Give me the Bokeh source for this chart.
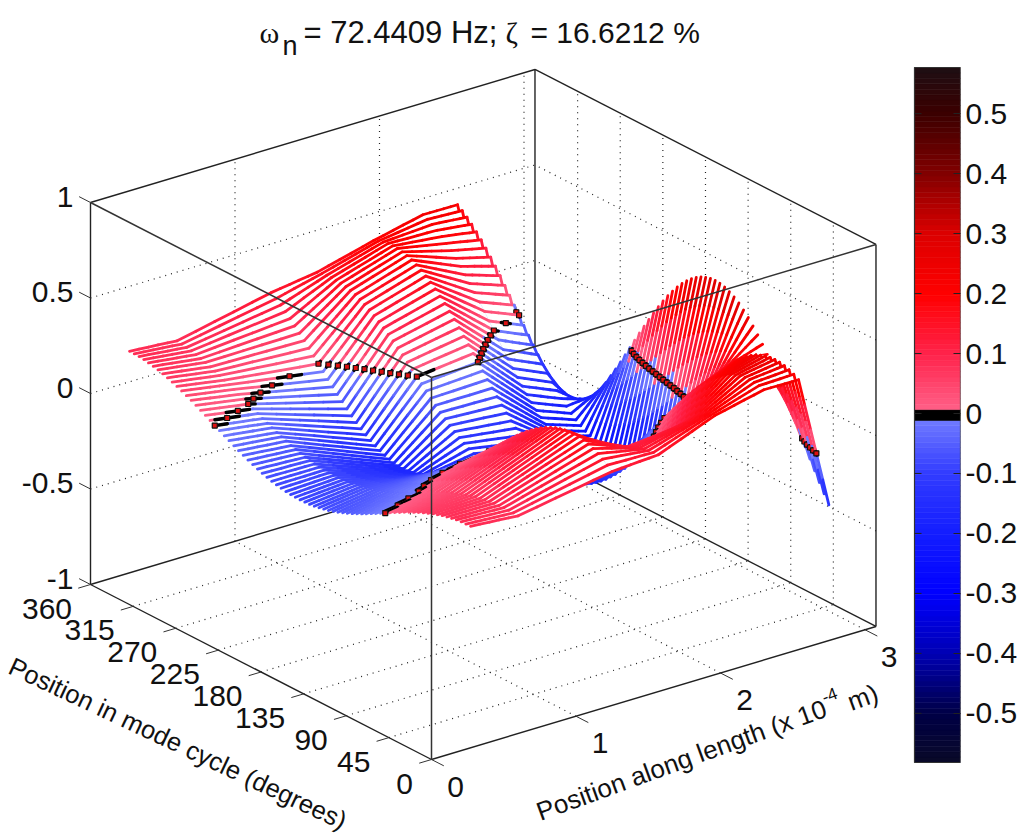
from bokeh.plotting import figure
from bokeh.embed import file_html
from bokeh.resources import INLINE
from bokeh.models import Range1d, LinearAxis, FixedTicker
from bokeh.core.properties import value
import numpy as np

# ---------- values ----------
phase_deg = list(range(0, 365, 5))
x_stations = [0.27, 0.60, 1.25, 1.57, 1.96, 2.30, 2.54, 2.75]

z_x027 = [.160,.159,.158,.155,.150,.145,.139,.131,.123,.113,.103,.092,.080,.068,.055,.041,.028,.014,0,-.014,-.028,-.041,-.055,-.068,-.080,-.092,-.103,-.113,-.123,-.131,-.139,-.145,-.150,-.155,-.158,-.159,
          -.160,-.159,-.158,-.155,-.150,-.145,-.139,-.131,-.123,-.113,-.103,-.092,-.080,-.068,-.055,-.041,-.028,-.014,0,.014,.028,.041,.055,.068,.080,.092,.103,.113,.123,.131,.139,.145,.150,.155,.158,.159,.160]
z_x060 = [.140,.143,.144,.145,.144,.143,.140,.136,.131,.126,.119,.111,.103,.093,.083,.073,.061,.050,.038,.025,.013,0,-.013,-.025,-.038,-.050,-.061,-.073,-.083,-.093,-.103,-.111,-.119,-.126,-.131,-.136,
          -.140,-.143,-.144,-.145,-.144,-.143,-.140,-.136,-.131,-.126,-.119,-.111,-.103,-.093,-.083,-.073,-.061,-.050,-.038,-.025,-.013,0,.013,.025,.038,.050,.061,.073,.083,.093,.103,.111,.119,.126,.131,.136,.140]
z_x125 = [.225,.245,.264,.280,.294,.305,.313,.319,.320,.319,.315,.309,.301,.290,.277,.262,.245,.226,.206,.184,.160,.135,.109,.083,.056,.028,0,-.028,-.056,-.083,-.109,-.135,-.160,-.184,-.206,-.226,
          -.245,-.262,-.277,-.290,-.301,-.309,-.315,-.319,-.320,-.319,-.315,-.309,-.301,-.290,-.277,-.262,-.245,-.226,-.206,-.184,-.160,-.135,-.109,-.083,-.056,-.028,0,.028,.056,.083,.109,.135,.160,.184,.206,.226,.245]
z_x157 = [.240,.240,.238,.232,.225,.215,.202,.186,.166,.145,.123,.099,.075,.050,.025,0,-.025,-.050,-.075,-.099,-.123,-.145,-.166,-.186,-.205,-.222,-.238,-.251,-.263,-.273,-.280,-.286,-.289,-.290,-.289,-.286,
          -.280,-.273,-.263,-.251,-.238,-.222,-.205,-.186,-.166,-.145,-.123,-.099,-.075,-.050,-.025,0,.025,.050,.075,.099,.123,.145,.166,.186,.205,.222,.238,.251,.263,.273,.280,.286,.289,.290,.289,.286,.280]
z_x196 = [.357,.344,.329,.311,.291,.269,.244,.218,.190,.161,.130,.098,.066,.033,0,-.033,-.066,-.098,-.130,-.161,-.190,-.218,-.244,-.269,-.291,-.311,-.329,-.344,-.357,-.367,-.374,-.379,-.380,-.379,-.374,-.367,
          -.357,-.344,-.329,-.311,-.291,-.269,-.244,-.218,-.190,-.161,-.130,-.098,-.066,-.033,0,.033,.066,.098,.130,.161,.190,.218,.244,.269,.291,.311,.329,.344,.357,.367,.374,.379,.380,.379,.374,.367,.357]
z_x230 = [.415,.424,.428,.430,.428,.424,.415,.404,.390,.372,.352,.329,.304,.276,.247,.215,.182,.147,.111,.075,.037,0,-.037,-.075,-.111,-.147,-.182,-.215,-.247,-.276,-.304,-.329,-.352,-.372,-.390,-.404,
          -.415,-.424,-.428,-.430,-.428,-.424,-.415,-.404,-.390,-.372,-.352,-.329,-.304,-.276,-.247,-.215,-.182,-.147,-.111,-.075,-.037,0,.037,.075,.111,.147,.182,.215,.247,.276,.304,.329,.352,.372,.390,.404,.415]
z_x254 = [.413,.429,.440,.449,.454,.456,.454,.449,.440,.429,.413,.395,.374,.349,.322,.293,.262,.228,.193,.156,.118,.079,.040,0,-.040,-.079,-.118,-.156,-.193,-.228,-.262,-.293,-.322,-.349,-.374,-.395,
          -.413,-.429,-.440,-.449,-.454,-.456,-.454,-.449,-.440,-.429,-.413,-.395,-.374,-.349,-.322,-.293,-.262,-.228,-.193,-.156,-.118,-.079,-.040,0,.040,.079,.118,.156,.193,.228,.262,.293,.322,.349,.374,.395,.413]
z_x275 = [-.290,-.245,-.198,-.150,-.101,-.051,0,.051,.101,.150,.198,.245,.290,.333,.373,.410,.444,.475,.502,.526,.545,.560,.571,.578,.580,.578,.571,.560,.545,.526,.502,.475,.444,.410,.373,.333,
          .290,.245,.198,.150,.101,.051,0,-.051,-.101,-.150,-.198,-.245,-.290,-.333,-.373,-.410,-.444,-.475,-.502,-.526,-.545,-.560,-.571,-.578,-.580,-.578,-.571,-.560,-.545,-.526,-.502,-.475,-.444,-.410,-.373,-.333,-.290]

z_columns = [z_x027, z_x060, z_x125, z_x157, z_x196, z_x230, z_x254, z_x275]

x_ticks = [0, 1, 2, 3]
x_tick_labels = ["0", "1", "2", "3"]
phase_ticks = [0, 45, 90, 135, 180, 225, 270, 315, 360]
phase_tick_labels = ["0", "45", "90", "135", "180", "225", "270", "315", "360"]
z_ticks = [-1, -0.5, 0, 0.5, 1]
z_tick_labels = ["-1", "-0.5", "0", "0.5", "1"]
cbar_ticks = [-0.5, -0.4, -0.3, -0.2, -0.1, 0, 0.1, 0.2, 0.3, 0.4, 0.5]
cbar_tick_labels = ["-0.5", "-0.4", "-0.3", "-0.2", "-0.1", "0", "0.1", "0.2", "0.3", "0.4", "0.5"]
x_limit = 3.076
cbar_low, cbar_high = -0.582, 0.577

# colour map stops
cmap_at = [-0.582, -0.5, -0.4, -0.3, -0.2, -0.1, -0.008, -0.0079, 0.0079, 0.008, 0.1, 0.2, 0.3, 0.4, 0.5, 0.577]
cmap_r  = [10, 0, 0, 0, 20, 50, 115, 0, 0, 255, 255, 255, 220, 130, 60, 30]
cmap_g  = [10, 0, 0, 0, 30, 60, 125, 0, 0, 95, 35, 0, 0, 0, 0, 15]
cmap_b  = [40, 70, 180, 255, 255, 255, 255, 0, 0, 135, 75, 0, 0, 0, 0, 20]
colour_scale = 0.55

FONT = "Liberation Sans"

# ---------- projection of the 3-D box on to the page ----------
def px(x, ph, z):
    return 431 + 144.5 * np.asarray(x, float) - np.asarray(ph, float) * 341 / 360 + 0 * np.asarray(z, float)

def py(x, ph, z):
    return 759 - 43.25 * np.asarray(x, float) - np.asarray(ph, float) * 175 / 360 - 191 * (np.asarray(z, float) + 1)

def colour(c):
    r = np.interp(c, cmap_at, cmap_r)
    g = np.interp(c, cmap_at, cmap_g)
    b = np.interp(c, cmap_at, cmap_b)
    return "#%02x%02x%02x" % (int(r), int(g), int(b))

def surface_colour(z):
    c = colour_scale * z
    if abs(c) < 0.008:
        c = 0.008 if c >= 0 else -0.008
    return colour(c)

# the frame runs to the right edge of the colour bar; the bar's axis is the frame's right axis
BAR_TOP, BAR_BOTTOM = 67.0, 762.0
per_px = (cbar_high - cbar_low) / (BAR_BOTTOM - BAR_TOP)
p = figure(width=1024, height=839, x_range=Range1d(0, 960), y_range=Range1d(839, 0),
           x_axis_location=None, y_axis_location=None, toolbar_location=None,
           output_backend="svg", min_border_left=0, min_border_top=0, min_border_bottom=0,
           min_border_right=64, outline_line_color=None)
p.xgrid.visible = False
p.ygrid.visible = False
p.background_fill_color = "white"
p.extra_y_ranges = {"bar": Range1d(cbar_low - (839 - BAR_BOTTOM) * per_px, cbar_high + BAR_TOP * per_px)}

def seg3d(pairs, **kw):
    xs = [[float(px(*a)), float(px(*b))] for a, b in pairs]
    ys = [[float(py(*a)), float(py(*b))] for a, b in pairs]
    return p.multi_line(xs, ys, **kw)

# dotted grid on the floor and the two back walls
grid = []
for x in x_ticks[1:]:
    grid.append(((x, 0, -1), (x, 360, -1)))
    grid.append(((x, 360, -1), (x, 360, 1)))
for ph in phase_ticks[1:-1]:
    grid.append(((0, ph, -1), (x_limit, ph, -1)))
    grid.append(((x_limit, ph, -1), (x_limit, ph, 1)))
for z in z_ticks[1:-1]:
    grid.append(((0, 360, z), (x_limit, 360, z)))
    grid.append(((x_limit, 0, z), (x_limit, 360, z)))
seg3d(grid, line_color="#222222", line_width=1.2, line_dash="1 5")

# back edges of the box
back = [((0, 360, -1), (x_limit, 360, -1)), ((x_limit, 360, -1), (x_limit, 0, -1)),
        ((x_limit, 360, -1), (x_limit, 360, 1)), ((0, 360, 1), (x_limit, 360, 1)),
        ((x_limit, 360, 1), (x_limit, 0, 1)), ((0, 0, -1), (x_limit, 0, -1)),
        ((0, 0, -1), (0, 360, -1)), ((0, 360, -1), (0, 360, 1)), ((x_limit, 0, -1), (x_limit, 0, 1))]
seg3d(back, line_color="#222222", line_width=1.4)

# surface, far rows first so that the white faces hide what lies behind them
Z = np.array(z_columns).T          # rows: phase, columns: station
X = np.array(x_stations)
PH = np.array(phase_deg, float)
nrow, nst = Z.shape
SUB = 5

def draw_row(i):
    xs, ys, cols = [], [], []
    bx, by = [], []
    mx, my = [], []
    ph = PH[i]
    for j in range(nst - 1):
        za, zb = Z[i, j], Z[i, j + 1]
        xa, xb = X[j], X[j + 1]
        for k in range(SUB):
            t0, t1 = k / SUB, (k + 1) / SUB
            x0, x1 = xa + (xb - xa) * t0, xa + (xb - xa) * t1
            z0, z1 = za + (zb - za) * t0, za + (zb - za) * t1
            xs.append([float(px(x0, ph, z0)), float(px(x1, ph, z1))])
            ys.append([float(py(x0, ph, z0)), float(py(x1, ph, z1))])
            cols.append(surface_colour((z0 + z1) / 2))
        if za * zb < 0 or za == 0:
            t = za / (za - zb)
            w = 0.010 / abs(zb - za)
            lo, hi = max(0, t - w), min(1, t + w)
            x0, x1 = xa + (xb - xa) * lo, xa + (xb - xa) * hi
            z0, z1 = za + (zb - za) * lo, za + (zb - za) * hi
            bx.append([float(px(x0, ph, z0)), float(px(x1, ph, z1))])
            by.append([float(py(x0, ph, z0)), float(py(x1, ph, z1))])
            xc = xa + (xb - xa) * t
            mx.append(float(px(xc, ph, 0)))
            my.append(float(py(xc, ph, 0)))
    xs += bx
    ys += by
    cols += ["#000000"] * len(bx)
    widths = [2.8] * (len(xs) - len(bx)) + [3.4] * len(bx)
    p.multi_line(xs, ys, line_color=cols, line_width=widths, line_cap="round")
    if mx:
        p.scatter(mx, my, marker="square", size=5, fill_color="#dd1111", line_color="#111111", line_width=1.2)

for i in range(nrow - 1, 0, -1):
    qx, qy = [], []
    for j in range(nst - 2, -1, -1):
        corners = [(i, j), (i, j + 1), (i - 1, j + 1), (i - 1, j)]
        qx.append([float(px(X[b], PH[a], Z[a, b])) for a, b in corners])
        qy.append([float(py(X[b], PH[a], Z[a, b])) for a, b in corners])
    p.patches(qx, qy, fill_color="white", line_color="white", line_width=0.4)
    draw_row(i)
draw_row(0)

# front edges, over the surface
front = [((0, 360, 1), (0, 0, 1)), ((0, 0, 1), (x_limit, 0, 1)), ((0, 0, -1), (0, 0, 1))]
seg3d(front, line_color="#333333", line_width=1.5)

# tick marks
ticks = []
for x in x_ticks:
    ticks.append(((x, 0, -1), (x, -13, -1)))
for ph in phase_ticks:
    ticks.append(((0, ph, -1), (-0.085, ph, -1)))
for z in z_ticks:
    ticks.append(((0, 360, z), (0, 372, z)))
seg3d(ticks, line_color="#333333", line_width=1)

# tick labels (offsets from the projected tick)
def labels(xv, yv, texts, **kw):
    p.text(xv, yv, text=texts, text_font=value(FONT), text_font_size="30px", text_color="#111111",
           text_baseline="middle", **kw)

labels([float(px(x, 0, -1)) + 24 for x in x_ticks],
       [float(py(x, 0, -1)) + 27 for x in x_ticks], x_tick_labels, text_align="center")
labels([float(px(0, ph, -1)) - 18.5 for ph in phase_ticks],
       [float(py(0, ph, -1)) + 24 for ph in phase_ticks], phase_tick_labels, text_align="right")
labels([73.0] * 5, [float(py(0, 360, z)) - 6 for z in z_ticks], z_tick_labels, text_align="right")

# axis titles
def slanted(xv, yv, t, ang, size):
    p.text([xv], [yv], text=[t], angle=[ang], angle_units="deg", text_font=value(FONT),
           text_font_size=size, text_color="#111111", text_baseline="alphabetic", text_align="left")

slanted(10, 664, "Position in mode cycle (degrees)", -25.2, "25.5px")
slanted(537, 812, "Position along length (x 10", 20, "26px")
slanted(822, 697, "-4", 20, "17px")
slanted(848, 702, "m)", 20, "26px")

# title
for xv, yv, t, f, s in [(259, 32, "\u03c9", "Liberation Serif", "30px"), (282, 45, "n", FONT, "27px"),
                        (303, 32, "= 72.4409 Hz;", FONT, "31px"), (505, 32, "\u03b6", "Liberation Serif", "30px"),
                        (530, 32, "= 16.6212 %", FONT, "30px")]:
    p.text([xv], [yv], text=[t], text_font=value(f), text_font_size=s, text_color="#111111",
           text_baseline="alphabetic", text_align="left")

# colour bar
levels = 128
edges = np.linspace(cbar_low, cbar_high, levels + 1)
mid = (edges[:-1] + edges[1:]) / 2
BAR_L, BAR_R = 914, 960
band_colours = [colour(v) for v in mid]
p.quad(left=BAR_L, right=BAR_R, bottom=edges[:-1].tolist(), top=edges[1:].tolist(),
       fill_color=band_colours, line_color=band_colours, line_width=0.6, y_range_name="bar")
p.multi_line([[BAR_L, BAR_R, BAR_R, BAR_L, BAR_L]], [[cbar_low, cbar_low, cbar_high, cbar_high, cbar_low]],
             line_color="#333333", line_width=1.2, y_range_name="bar")
p.segment(x0=[BAR_L] * len(cbar_ticks), x1=[BAR_L + 7] * len(cbar_ticks), y0=cbar_ticks, y1=cbar_ticks,
          line_color="#222222", line_width=1, y_range_name="bar")
right_axis = LinearAxis(y_range_name="bar", ticker=FixedTicker(ticks=cbar_ticks),
                        major_label_overrides={t: s for t, s in zip(cbar_ticks, cbar_tick_labels)},
                        major_tick_in=7, major_tick_out=0, minor_tick_line_color=None,
                        major_label_text_font=FONT, major_label_text_font_size="30px",
                        major_label_text_color="#111111", major_label_standoff=5,
                        axis_line_color=None, major_tick_line_color="#222222")
p.add_layout(right_axis, "right")

open("out.html", "w").write(file_html(p, INLINE))
